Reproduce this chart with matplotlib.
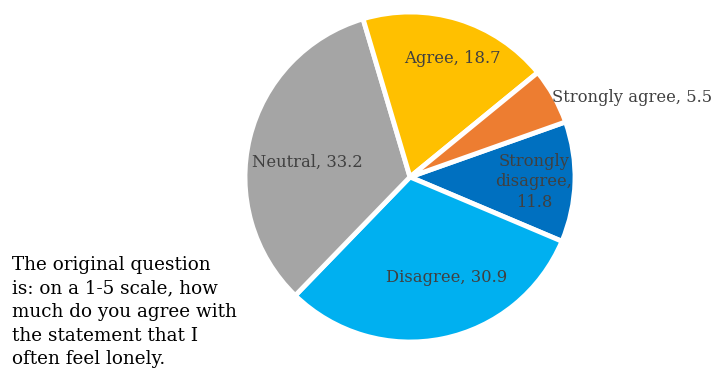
import matplotlib.pyplot as plt

# Survey answers (percent)
categories = ["Strongly disagree", "Disagree", "Neutral", "Agree", "Strongly agree"]
values = [11.8, 30.9, 33.2, 18.7, 5.5]
colors = ["#0070C0", "#00B0F0", "#A5A5A5", "#FFC000", "#ED7D31"]
label_texts = ["Strongly\ndisagree,\n11.8", "Disagree, 30.9", "Neutral, 33.2",
               "Agree, 18.7", "Strongly agree, 5.5"]

W, H = 713, 373
fig = plt.figure(figsize=(W / 100, H / 100), dpi=100)

# pie centre ~(410,177) px, radius ~165 px
cx, cy, r = 410, 177, 165
ax = fig.add_axes([(cx - r) / W, (H - cy - r) / H, 2 * r / W, 2 * r / H])

wedges, _ = ax.pie(values, colors=colors, startangle=19.5, counterclock=False,
                   radius=1, wedgeprops=dict(edgecolor="white", linewidth=3.5))
ax.set_xlim(-1, 1)
ax.set_ylim(-1, 1)
ax.set_aspect("equal")
ax.axis("off")

# label spots (pixel centres in the picture)
label_px = [(534, 182), (447, 278), (307, 162), (452, 58), (632, 98)]
for txt, (px, py) in zip(label_texts, label_px):
    ax.text((px - cx) / r, (cy - py) / r, txt, ha="center", va="center",
            fontsize=11.8, family="DejaVu Serif", color="#404040",
            linespacing=1.3)

note = ("The original question\nis: on a 1-5 scale, how\nmuch do you agree with\n"
        "the statement that I\noften feel lonely.")
fig.text(12 / W, 1 - 256 / H, note, ha="left", va="top", fontsize=13.2,
         family="DejaVu Serif", color="black", linespacing=1.4)

fig.savefig("out.png", dpi=100)
